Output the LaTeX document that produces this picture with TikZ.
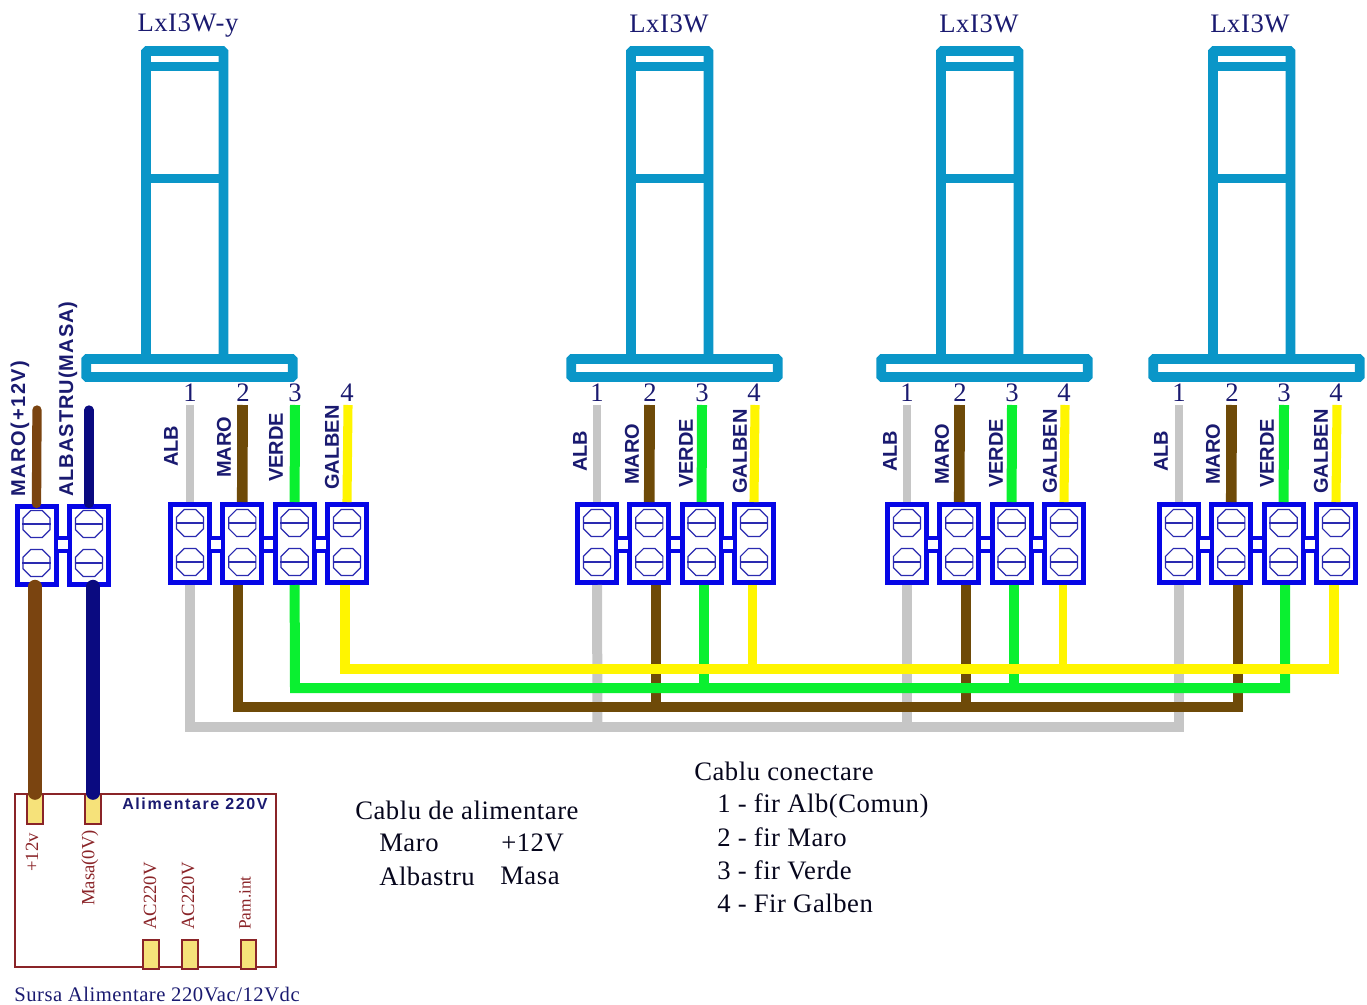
\documentclass[tikz,border=0pt]{standalone}
\usepackage{fontspec}
\setmainfont{Liberation Serif}
\setsansfont{Liberation Sans}
\usetikzlibrary{shapes.geometric}
\definecolor{lampblue}{HTML}{0A96C8}
\definecolor{termblue}{HTML}{0606E6}
\definecolor{screwblue}{HTML}{2A2AB0}
\definecolor{navytext}{HTML}{1A1A70}
\definecolor{wirebrown}{HTML}{6E4A08}
\definecolor{leftbrown}{HTML}{7A4410}
\definecolor{wirenavy}{HTML}{0A0A80}
\definecolor{wiregray}{HTML}{C6C6C6}
\definecolor{wiregreen}{HTML}{0AF030}
\definecolor{wireyellow}{HTML}{FFF500}
\definecolor{boxred}{HTML}{8A2428}
\definecolor{padyellow}{HTML}{F6E27A}
\begin{document}
\begin{tikzpicture}[x=0.75pt,y=-0.75pt]
            \tikzstyle{lamp}=[rectangle,draw=lampblue,line width=7.3pt,rounded corners=0.8pt,minimum width=58pt]
            \tikzstyle{bar}=[draw=lampblue,line width=7.3pt]
            \tikzstyle{terminal}=[rectangle,draw=termblue,line width=3.75pt,fill=white,minimum width=29.25pt,minimum height=58.5pt,inner sep=0pt]
            \tikzstyle{link}=[rectangle,draw=termblue,line width=2.6pt,fill=white,minimum width=10pt,minimum height=9.5pt,inner sep=0pt]
            \tikzstyle{screw}=[regular polygon,regular polygon sides=8,draw=screwblue,line width=0.9pt,minimum size=22pt,inner sep=0pt]
            \tikzstyle{slot}=[draw=screwblue,line width=0.9pt]
            \tikzstyle{wire}=[draw,line width=7.5pt]
            \tikzstyle{thin wire}=[draw,line width=6.4pt,line cap=round]
            \tikzstyle{pad}=[rectangle,draw=boxred,line width=1.3pt,fill=padyellow,minimum width=11.5pt,inner sep=0pt]
            \tikzstyle{title}=[font=\fontsize{20}{22}\selectfont\addfontfeature{LetterSpace=2},text=navytext,inner sep=0pt]
            \tikzstyle{number}=[font=\fontsize{20}{22}\selectfont,text=navytext,inner sep=0pt]
            \tikzstyle{note}=[font=\fontsize{20}{22}\selectfont\addfontfeature{LetterSpace=2},text=black!75!navytext,anchor=west,inner sep=0pt]
            \tikzstyle{colour}=[font=\sffamily\bfseries\fontsize{15}{16}\selectfont,text=navytext,rotate=90,anchor=west,inner sep=0pt]
            \tikzstyle{pin}=[font=\fontsize{14}{15}\selectfont,text=boxred,rotate=90,anchor=west,inner sep=0pt]
            \useasboundingbox (0,0) rectangle (1367,1005);
            % lamps
            \foreach \n/\dx/\tx/\ty/\name in {1/0/188/26/LxI3W-y,2/485/184/24/LxI3W,3/795/184/24/LxI3W,4/1067/183/24/LxI3W} {
               \begin{scope}[xshift=\dx*0.75pt]
                  \node [lamp,minimum height=231pt] (lamp\n) at (184.75,205) {};
                  \node [lamp,minimum width=155pt,minimum height=13.5pt] (base\n) at (189.5,368) {};
                  \coordinate (barl\n) at (146,66.5);
                  \coordinate (barr\n) at (223.5,66.5);
                  \coordinate (midl\n) at (146,178.5);
                  \coordinate (midr\n) at (223.5,178.5);
                  \path[bar] (barl\n) -- (barr\n);
                  \path[bar] (midl\n) -- (midr\n);
                  \node [title] (name\n) at (\tx,\ty) {\name};
               \end{scope}
            }
            % terminals, the connecting wires go under them
            \foreach \g/\dx in {1/0,2/407,3/717,4/989} {
               \begin{scope}[xshift=\dx*0.75pt]
                  \foreach \t/\x in {1/190,2/242.3,3/294.6,4/347} {
                     \node [terminal] (term\g\t) at (\x,543.5) {};
                     \node [screw] (up\g\t) at (\x,523) {};
                     \node [screw] (dn\g\t) at (\x,562) {};
                     \path[slot] (up\g\t.west) -- (up\g\t.east);
                     \path[slot] (dn\g\t.west) -- (dn\g\t.east);
                  }
                  \node [link] (linka\g) at (216,544.5) {};
                  \node [link] (linkb\g) at (268.5,544.5) {};
                  \node [link] (linkc\g) at (321,544.5) {};
                  \node [number] (num\g a) at (190,393) {1};
                  \node [number] (num\g b) at (243,393) {2};
                  \node [number] (num\g c) at (295,393) {3};
                  \node [number] (num\g d) at (347,393) {4};
                  \coordinate (topa\g) at (190,405);
                  \coordinate (topb\g) at (242.5,405);
                  \coordinate (topc\g) at (295,405);
                  \coordinate (topd\g) at (348,405);
                  \path[wire,wiregray,line width=6pt] (topa\g) -- (term\g1.north);
                  \path[wire,wirebrown,line width=8pt] (topb\g) -- (term\g2.north);
                  \path[wire,wiregreen,line width=7.5pt] (topc\g) -- (term\g3.north);
                  \path[wire,wireyellow,line width=6.8pt] (topd\g) -- (term\g4.north);
               \end{scope}
            }
            % left pair of terminals
            \node [terminal] (terml) at (36.5,545) {};
            \node [terminal] (termr) at (89,545) {};
            \node [link] (linkl) at (62.7,544.5) {};
            \foreach \a/\x in {l/36.5,r/89} {
               \node [screw] (up\a) at (\x,524) {};
               \node [screw] (dn\a) at (\x,563) {};
               \path[slot] (up\a.west) -- (up\a.east);
               \path[slot] (dn\a.west) -- (dn\a.east);
            }
            % cable, grey first and yellow last
            \coordinate (busa1) at (190,727);   \coordinate (busa2) at (597.5,727);
            \coordinate (busa3) at (907,727);   \coordinate (busa4) at (1179,727);
            \coordinate (busb1) at (238,707);   \coordinate (busb2) at (655.5,707);
            \coordinate (busb3) at (966,707);   \coordinate (busb4) at (1238,707);
            \coordinate (busc1) at (295,688);   \coordinate (busc2) at (704,688);
            \coordinate (busc3) at (1014,688);  \coordinate (busc4) at (1285,688);
            \coordinate (busd1) at (345,669);   \coordinate (busd2) at (752.5,669);
            \coordinate (busd3) at (1063,669);  \coordinate (busd4) at (1334,669);
            \path[wire,wiregray] (term11.south) -- (busa1) -- (busa4) -- (term41.south);
            \path[wire,wiregray] (term21.south) -- (busa2);
            \path[wire,wiregray] (term31.south) -- (busa3);
            \path[wire,wirebrown] (term12.south -| busb1) -- (busb1) -- (busb4) -- (term42.south -| busb4);
            \path[wire,wirebrown] (term22.south -| busb2) -- (busb2);
            \path[wire,wirebrown] (term32.south -| busb3) -- (busb3);
            \path[wire,wiregreen] (term13.south) -- (busc1) -- (busc4) -- (term43.south -| busc4);
            \path[wire,wiregreen] (term23.south -| busc2) -- (busc2);
            \path[wire,wiregreen] (term33.south -| busc3) -- (busc3);
            \path[wire,wireyellow] (term14.south -| busd1) -- (busd1) -- (busd4) -- (term44.south -| busd4);
            \path[wire,wireyellow,line width=6.2pt] (term24.south -| busd2) -- (busd2);
            \path[wire,wireyellow,line width=6.2pt] (term34.south -| busd3) -- (busd3);
            % power supply
            \node [rectangle,draw=boxred,line width=1.5pt,minimum width=195.75pt,minimum height=129.75pt,inner sep=0pt] (supply) at (145.5,880.5) {};
            \node [pad,minimum height=22.5pt] (plus) at (35,809) {};
            \node [pad,minimum height=22.5pt] (masa) at (93,809) {};
            \node [pad,minimum height=22pt] (aca) at (151,954.5) {};
            \node [pad,minimum height=22pt] (acb) at (190,954.5) {};
            \node [pad,minimum height=22pt] (pam) at (248.5,954.5) {};
            % supply cable
            \coordinate (topl) at (37,410);
            \coordinate (topr) at (89,410);
            \path[thin wire,leftbrown,line width=7pt] (topl) -- (terml.north);
            \path[thin wire,wirenavy,line width=7pt] (topr) -- (termr.north);
            \path[wire,leftbrown,line width=10pt,line cap=round] (terml.south -| plus) -- (plus.north);
            \path[wire,wirenavy,line width=10pt,line cap=round] (termr.south -| masa) -- (masa.north);
            % texts
            \node [colour,font=\sffamily\bfseries\fontsize{15}{16}\selectfont\addfontfeature{LetterSpace=8}] (lblmaro) at (20,497) {MARO(+12V)};
            \node [colour,font=\sffamily\bfseries\fontsize{15}{16}\selectfont\addfontfeature{LetterSpace=5}] (lblalbastru) at (68,497) {ALBASTRU(MASA)};
            \node [colour] (alb1) at (171,467) {ALB};
            \node [colour] (maro1) at (224,478) {MARO};
            \node [colour] (verde1) at (276,482) {VERDE};
            \node [colour] (galben1) at (332,490) {GALBEN};
            \foreach \g/\x/\y in {2/580/5,3/890/5,4/1161/5} {
               \node [colour] (alb\g) at (\x,467+\y) {ALB};
               \node [colour] (maro\g) at (\x+52,480+\y) {MARO};
               \node [colour] (verde\g) at (\x+106,483+\y) {VERDE};
               \node [colour] (galben\g) at (\x+160,489+\y) {GALBEN};
            }
            \node [font=\sffamily\bfseries\fontsize{12}{13}\selectfont\addfontfeature{LetterSpace=10},text=navytext,anchor=west,inner sep=0pt] (alim) at (122,804) {Alimentare 220V};
            \node [pin] (pinplus) at (32,872) {+12v};
            \node [pin] (pinmasa) at (90,906) {Masa(0V)};
            \node [pin] (pinaca) at (150,930) {AC220V};
            \node [pin] (pinacb) at (188,930) {AC220V};
            \node [pin,font=\fontsize{13}{14}\selectfont] (pinpam) at (245,930) {Pam.int};
            \node [font=\fontsize{15.5}{17}\selectfont\addfontfeature{LetterSpace=2.5},text=navytext,anchor=west,inner sep=0pt] (sursa) at (14,994) {Sursa Alimentare 220Vac/12Vdc};
            \node [note] (cablua) at (355,810) {Cablu de alimentare};
            \node [note] (marot) at (379,843) {Maro};
            \node [note] (marov) at (501,843) {+12V};
            \node [note] (albt) at (379,876) {Albastru};
            \node [note] (albv) at (500,876) {Masa};
            \node [note] (cablub) at (694,771) {Cablu conectare};
            \node [note] (fir1) at (717,806) {1 - fir Alb(Comun)};
            \node [note] (fir2) at (717,837) {2 - fir Maro};
            \node [note] (fir3) at (717,870) {3 - fir Verde};
            \node [note] (fir4) at (717,903) {4 - Fir Galben};
        \end{tikzpicture}
\end{document}
